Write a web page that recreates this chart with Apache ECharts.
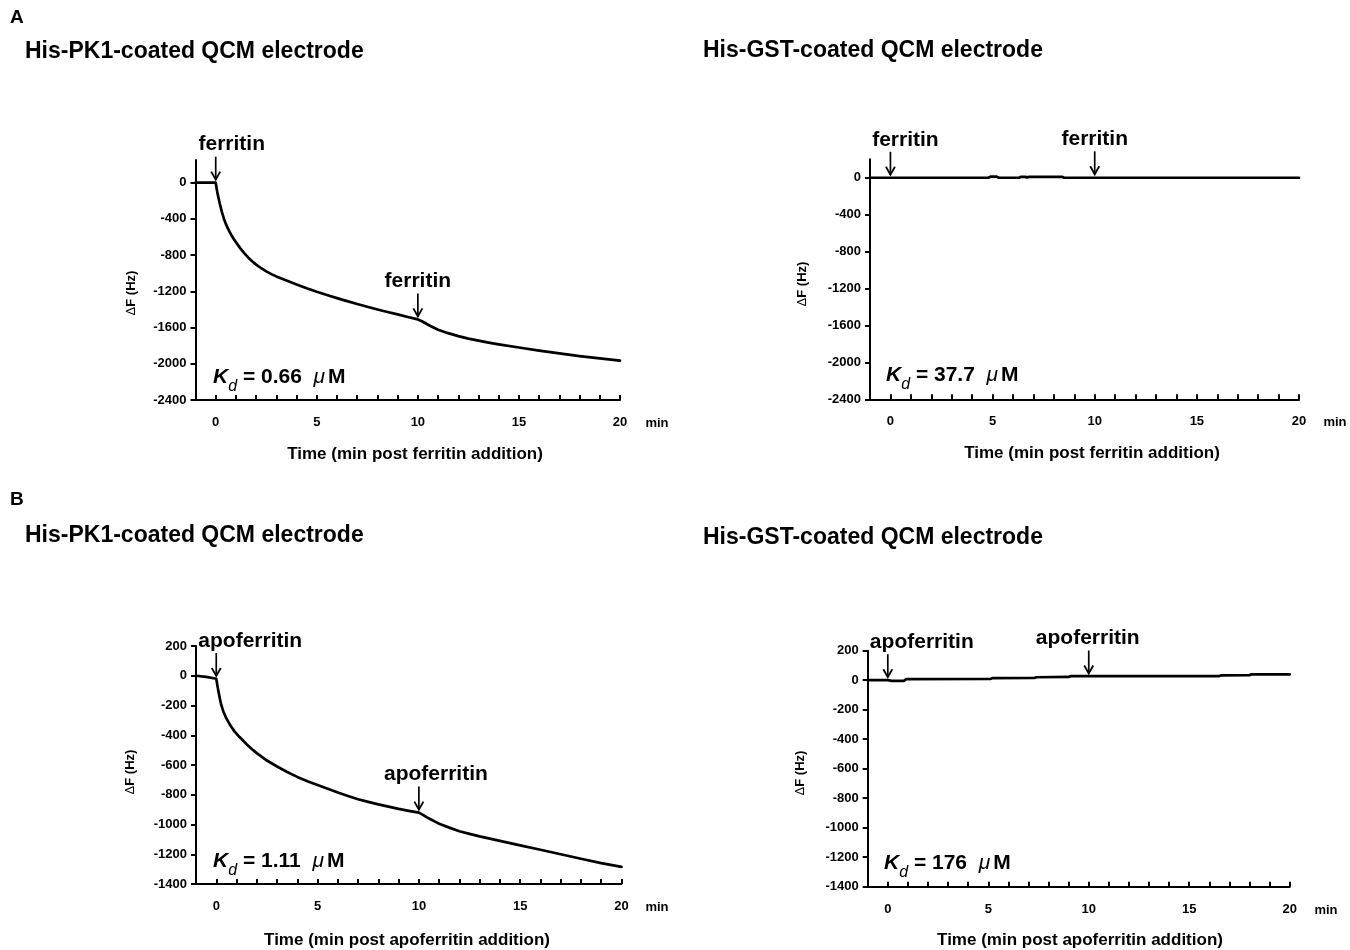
<!DOCTYPE html>
<html>
<head>
<meta charset="utf-8">
<script src="https://cdn.jsdelivr.net/npm/echarts@6/dist/echarts.min.js"></script>
<style>
html,body{margin:0;padding:0;background:#fff;}
#c{width:1350px;height:950px;}
</style>
</head>
<body>
<div id="c"></div>
<script>
// ---------- DATA ----------
// Panel A, His-PK1 + ferritin
const timeA1 = [-1, -0.5, 0, 0.05, 0.1, 0.15, 0.2, 0.3, 0.4, 0.5, 0.6, 0.7, 0.8, 0.9, 1.0, 1.2, 1.4, 1.6, 1.8, 2, 2.25, 2.5, 2.75, 3, 3.5, 4, 4.5, 5, 5.5, 6, 6.5, 7, 7.5, 8, 8.5, 9, 9.5, 10, 10.2, 10.4, 10.6, 10.8, 11, 11.5, 12, 12.5, 13, 13.5, 14, 15, 16, 17, 18, 19, 20];
const valA1  = [0, 0, 0, -70, -130, -180, -230, -320, -395, -455, -505, -550, -590, -625, -657, -720, -776, -826, -868, -905, -945, -980, -1010, -1035, -1080, -1125, -1167, -1205, -1240, -1275, -1308, -1340, -1370, -1400, -1428, -1455, -1483, -1510, -1530, -1555, -1580, -1603, -1625, -1662, -1695, -1722, -1745, -1766, -1785, -1820, -1855, -1885, -1915, -1940, -1965];
// Panel A, His-GST + ferritin
const timeA2 = [-1, 0, 4.8, 4.9, 5.2, 5.3, 6.3, 6.4, 6.6, 6.7, 6.8, 8.4, 8.5, 20];
const valA2  = [0, 0, 0, 12, 12, 0, 0, 10, 10, 4, 10, 10, 0, 0];
// Panel B, His-PK1 + apoferritin
const timeB1 = [-1, -0.5, 0, 0.05, 0.1, 0.15, 0.2, 0.25, 0.35, 0.5, 0.7, 0.9, 1.15, 1.5, 1.75, 2, 2.5, 3, 3.5, 4, 4.5, 5, 5.5, 6, 6.5, 7, 7.5, 8, 8.5, 9, 9.5, 10, 10.2, 10.4, 10.6, 10.8, 11, 11.5, 12, 12.5, 13, 14, 15, 16, 17, 18, 19, 20];
const valB1  = [0, -8, -20, -60, -100, -135, -168, -198, -240, -287, -335, -374, -412, -460, -492, -520, -570, -610, -647, -680, -709, -735, -760, -785, -808, -830, -848, -865, -880, -895, -908, -920, -935, -952, -966, -981, -995, -1021, -1045, -1063, -1080, -1110, -1140, -1170, -1200, -1230, -1260, -1285];
// Panel B, His-GST + apoferritin
const timeB2 = [-1, 0, 0.2, 0.8, 0.9, 5.1, 5.2, 7.3, 7.4, 9, 9.1, 16.5, 16.6, 18, 18.1, 20];
const valB2  = [0, 0, -5, -5, 7, 8, 14, 16, 20, 22, 27, 28, 33, 34, 40, 40];

// injection annotations: [time, curve value at time]
const annA1 = [[0, 0], [10, -1510]];
const annA2 = [[0, 0], [10, 5]];
const annB1 = [[0, -22], [10, -920]];
const annB2 = [[0, 0], [10, 25]];
const annLabelA = 'ferritin';
const annLabelB = 'apoferritin';

// axis ticks
const xMajorTicks = [0, 5, 10, 15, 20];
const xMinorTicks = [0,1,2,3,4,5,6,7,8,9,10,11,12,13,14,15,16,17,18,19,20];
const yTicksA = [-2400, -2000, -1600, -1200, -800, -400, 0];
const yTicksB = [-1400, -1200, -1000, -800, -600, -400, -200, 0, 200];

const kdTexts = ['0.66', '37.7', '1.11', '176'];
const panelTitles = ['His-PK1-coated QCM electrode', 'His-GST-coated QCM electrode', 'His-PK1-coated QCM electrode', 'His-GST-coated QCM electrode'];
const xTitles = ['Time (min post ferritin addition)', 'Time (min post ferritin addition)', 'Time (min post apoferritin addition)', 'Time (min post apoferritin addition)'];

// ---------- CHART ----------
const FONT = '"Liberation Sans", Arial, Helvetica, sans-serif';
const zip = (t, v) => t.map((x, i) => [x, v[i]]);

const grids = [
  {left: 195.5, top: 160, width: 424.5, height: 240},
  {left: 870, top: 159.3, width: 429, height: 240},
  {left: 196, top: 646, width: 425.5, height: 238},
  {left: 867.7, top: 650.7, width: 422, height: 236}
];
const yRanges = [[-2400, 250, yTicksA], [-2400, 200, yTicksA], [-1400, 200, yTicksB], [-1400, 200, yTicksB]];
// label x-offsets (px) relative to arrow for each panel's two annotations
const labelDx = [[16, 0], [15, 0], [34, 17], [34, -1]];

const axisLineStyle = {color: '#000', width: 2};
const labelStyle = {color: '#000', fontWeight: 'bold', fontSize: 13, fontFamily: FONT};
const plain = v => String(v);

const xAxes = grids.map((g, i) => ({
  type: 'value', gridIndex: i, min: -1, max: 20,
  axisLine: {show: true, onZero: false, lineStyle: axisLineStyle},
  axisTick: {show: true, inside: true, length: 5, customValues: xMinorTicks, lineStyle: {color: '#000', width: 2}},
  axisLabel: Object.assign({customValues: xMajorTicks, margin: 16, formatter: plain}, labelStyle),
  splitLine: {show: false}
}));
const yAxes = grids.map((g, i) => ({
  type: 'value', gridIndex: i, min: yRanges[i][0], max: yRanges[i][1],
  axisLine: {show: true, onZero: false, lineStyle: axisLineStyle},
  axisTick: {show: true, inside: false, length: 5, customValues: yRanges[i][2], lineStyle: {color: '#000', width: 2}},
  axisLabel: Object.assign({customValues: yRanges[i][2], margin: 9, formatter: plain}, labelStyle),
  splitLine: {show: false}
}));

function lineSeries(i, t, v) {
  return {
    type: 'line', xAxisIndex: i, yAxisIndex: i, data: zip(t, v),
    showSymbol: false, symbol: 'none', smooth: false,
    lineStyle: {color: '#000', width: 2.7, join: 'round', cap: 'round'}, animation: false, z: 3
  };
}
function annSeries(i, ann, label) {
  return {
    type: 'custom', xAxisIndex: i, yAxisIndex: i, data: ann, clip: false, z: 5, animation: false,
    renderItem: function (params, api) {
      const p = api.coord([api.value(0), api.value(1)]);
      const x = p[0], y = p[1];
      const top = y - 26, bot = y - 3;
      return {
        type: 'group',
        children: [
          {type: 'line', shape: {x1: x, y1: top, x2: x, y2: bot}, style: {stroke: '#000', lineWidth: 1.7}},
          {type: 'polyline', shape: {points: [[x - 4.5, bot - 8], [x, bot], [x + 4.5, bot - 8]]}, style: {stroke: '#000', lineWidth: 1.8, fill: null}},
          {type: 'text', style: {text: label, x: x + labelDx[i][params.dataIndex], y: y - 38, align: 'center', verticalAlign: 'middle',
            fontSize: 21, fontWeight: 'bold', fontFamily: FONT, fill: '#000'}}
        ]
      };
    }
  };
}

function txt(x, y, text, size, align, extra) {
  return Object.assign({
    type: 'text', x: x, y: y, z: 10,
    style: {text: text, fontSize: size, fontWeight: 'bold', fontFamily: FONT, fill: '#000', align: align || 'left', verticalAlign: 'middle'}
  }, extra || {});
}
function yName(x, y) {
  return {
    type: 'text', x: x, y: y, z: 10, rotation: Math.PI / 2,
    style: {
      text: '{a|Δ}{b|F (Hz)}', align: 'center', verticalAlign: 'middle', fill: '#000',
      rich: {
        a: {fontSize: 13, fontFamily: FONT, fontWeight: 'normal'},
        b: {fontSize: 13, fontFamily: FONT, fontWeight: 'bold'}
      }
    }
  };
}
function kd(x, y, value) {
  return {
    type: 'text', x: x, y: y, z: 10,
    style: {
      text: '{k|K}{d|d}{n| = ' + value + '  }{u|μ}{n|M}', align: 'left', verticalAlign: 'middle', fill: '#000',
      rich: {
        k: {fontSize: 21, fontWeight: 'bold', fontStyle: 'italic', fontFamily: FONT, lineHeight: 24, verticalAlign: 'middle'},
        d: {fontSize: 16, fontStyle: 'italic', fontFamily: FONT, lineHeight: 24, verticalAlign: 'bottom', padding: [0, 0, -6, 0]},
        n: {fontSize: 21, fontWeight: 'bold', fontFamily: FONT, lineHeight: 24, verticalAlign: 'middle'},
        u: {fontSize: 21, fontStyle: 'italic', fontFamily: FONT, lineHeight: 24, verticalAlign: 'middle', padding: [0, 3, 0, 0]}
      }
    }
  };
}

const graphics = [
  txt(10, 18, 'A', 19), txt(10, 500, 'B', 19),
  txt(25, 52, panelTitles[0], 23), txt(703, 51, panelTitles[1], 23),
  txt(25, 536, panelTitles[2], 23), txt(703, 538, panelTitles[3], 23),
  txt(415, 454, xTitles[0], 17, 'center'), txt(1092, 453, xTitles[1], 17, 'center'),
  txt(407, 940, xTitles[2], 17, 'center'), txt(1080, 940, xTitles[3], 17, 'center'),
  txt(657, 423, 'min', 13, 'center'), txt(1335, 422, 'min', 13, 'center'),
  txt(657, 907, 'min', 13, 'center'), txt(1326, 910, 'min', 13, 'center'),
  yName(131, 293), yName(802, 284), yName(130, 772), yName(800, 773),
  kd(213, 377, kdTexts[0]), kd(886, 375, kdTexts[1]), kd(213, 861, kdTexts[2]), kd(884, 863, kdTexts[3])
];

const chart = echarts.init(document.getElementById('c'), null, {renderer: 'canvas'});
chart.setOption({
  backgroundColor: '#fff',
  animation: false,
  grid: grids,
  xAxis: xAxes,
  yAxis: yAxes,
  series: [
    lineSeries(0, timeA1, valA1),
    lineSeries(1, timeA2, valA2),
    lineSeries(2, timeB1, valB1),
    lineSeries(3, timeB2, valB2),
    annSeries(0, annA1, annLabelA),
    annSeries(1, annA2, annLabelA),
    annSeries(2, annB1, annLabelB),
    annSeries(3, annB2, annLabelB)
  ],
  graphic: graphics
});
</script>
</body>
</html>
